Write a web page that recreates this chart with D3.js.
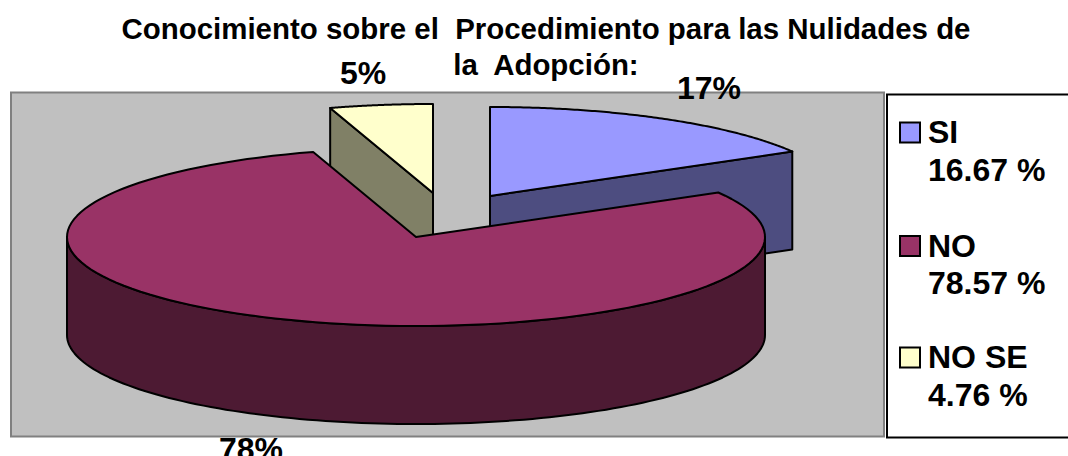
<!DOCTYPE html>
<html><head><meta charset="utf-8">
<script src="https://cdn.jsdelivr.net/npm/d3@7"></script>
<style>html,body{margin:0;padding:0;background:#fff;overflow:hidden}svg{display:block}text{font-family:"Liberation Sans",Arial,sans-serif;font-weight:bold;fill:#000;white-space:pre}</style>
</head><body><svg id="c" width="1068" height="456"></svg>
<script>
const categories = ["SI", "NO", "NO SE"];
const values = [16.67, 78.57, 4.76];
const legendValues = ["16.67 %", "78.57 %", "4.76 %"];
const dataLabels = ["17%", "78%", "5%"];
const topColors = ["#9999ff", "#993366", "#ffffcc"];
const sideColors = ["#4d4d80", "#4d1a33", "#808066"];
const titleLines = ["Conocimiento sobre el  Procedimiento para las Nulidades de", "la  Adopción:"];

const svg = d3.select("#c");
const rx = 349, ry = 89, depth = 98;
const centers = [[490, 196], [416, 237], [433, 193]];
const labelPos = [[709, 99], [251, 460], [363, 84]];
const legendY = [143, 256.5, 368];

svg.append("rect").attr("x", 11).attr("y", 92.5).attr("width", 873).attr("height", 344)
  .attr("fill", "#c0c0c0").attr("stroke", "#808080").attr("stroke-width", 2);
svg.append("rect").attr("x", 887).attr("y", 94.5).attr("width", 200).attr("height", 343)
  .attr("fill", "#fff").attr("stroke", "#000").attr("stroke-width", 2);

const arcs = d3.pie().sort(null).value(d => d)(values);
const pt = (c, a, dy = 0) => [c[0] + rx * Math.sin(a), c[1] - ry * Math.cos(a) + dy];
const rim = (c, a0, a1, dy = 0) => d3.range(0, 121).map(i => pt(c, a0 + (a1 - a0) * i / 120, dy));
const line = d3.line();
const draw = (pts, fill) => svg.append("path").attr("d", line(pts) + "Z").attr("fill", fill)
  .attr("stroke", "#000").attr("stroke-width", 2).attr("stroke-linejoin", "round");

// Order back to front: NO SE, SI, NO
[2, 0, 1].forEach(i => {
  const c = centers[i], a = arcs[i], a0 = a.startAngle, a1 = a.endAngle;
  const low = [c[0], c[1] + depth];
  if (i === 0) {
    const e = pt(c, a1);
    draw([c, e, [e[0], e[1] + depth], low], sideColors[i]);
  }
  if (i === 2) {
    const e = pt(c, a0);
    draw([c, e, [e[0], e[1] + depth], low], sideColors[i]);
  }
  if (i === 1) {
    const f0 = Math.PI / 2, f1 = Math.PI * 1.5;
    draw(rim(c, f0, f1).concat(rim(c, f1, f0, depth)), sideColors[i]);
  }
  draw([c].concat(rim(c, a0, a1)), topColors[i]);
});

titleLines.forEach((t, i) => svg.append("text").attr("x", 546).attr("y", 39 + i * 35.5)
  .attr("text-anchor", "middle").attr("font-size", 29.45).text(t));
dataLabels.forEach((t, i) => svg.append("text").attr("x", labelPos[i][0]).attr("y", labelPos[i][1])
  .attr("text-anchor", "middle").attr("font-size", 32).text(t));

categories.forEach((t, i) => {
  const y = legendY[i];
  svg.append("rect").attr("x", 900).attr("y", y - 20.5).attr("width", 20).attr("height", 20)
    .attr("fill", topColors[i]).attr("stroke", "#000").attr("stroke-width", 2);
  svg.append("text").attr("x", 928).attr("y", y).attr("font-size", 32).text(t);
  svg.append("text").attr("x", 928).attr("y", y + 37.5).attr("font-size", 32).text(legendValues[i]);
});
</script></body></html>
